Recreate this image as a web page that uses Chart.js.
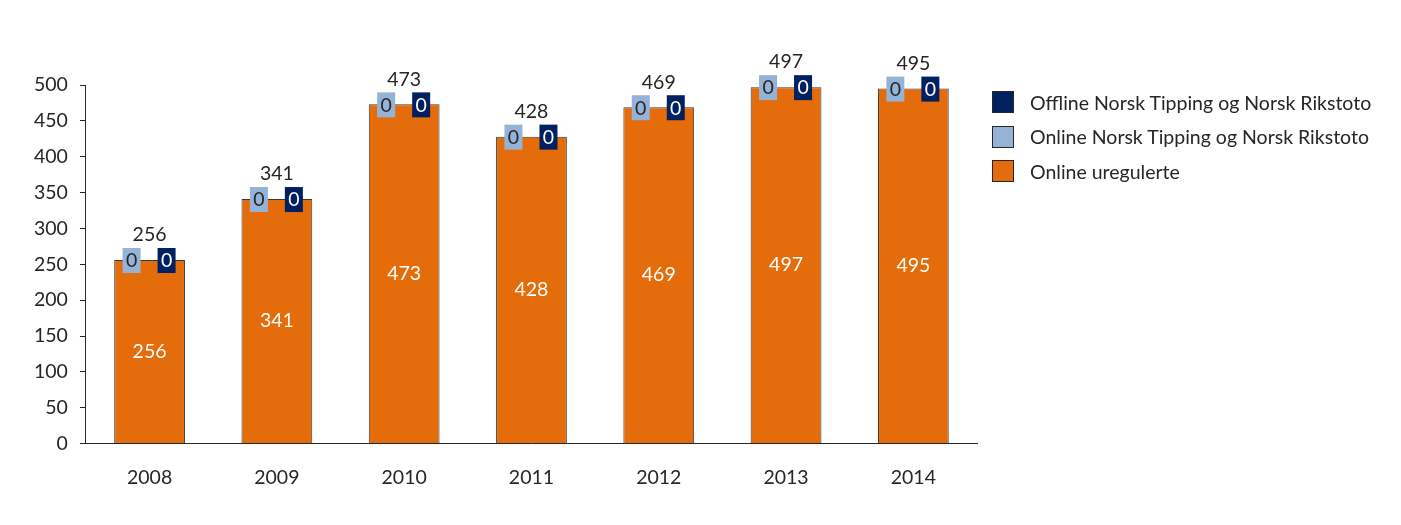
<!DOCTYPE html>
<html>
<head>
<meta charset="utf-8">
<script src="https://cdn.jsdelivr.net/npm/chart.js@4"></script>
<style>
  body { margin: 0; background: #fff; }
  .wrap { position: relative; width: 1401px; height: 525px; }
  #legend { position: absolute; left: 992px; top: 91px; margin: 0; padding: 0; list-style: none;
    font-family: Lato, "Open Sans", sans-serif; font-size: 19.5px; color: #262626; }
  #legend li { display: flex; align-items: center; height: 22px; margin-bottom: 12.5px; white-space: nowrap; }
  #legend span.box { display: inline-block; width: 20px; height: 20px; border: 1px solid #262626; margin-right: 16px; }
</style>
</head>
<body>
<div class="wrap">
  <canvas id="popChart" width="1401" height="525"></canvas>
  <ul id="legend"></ul>
</div>
<script>
const years = ['2008', '2009', '2010', '2011', '2012', '2013', '2014'];
const onlineUregulerte = [256, 341, 473, 428, 469, 497, 495];
const onlineNorsk = [0, 0, 0, 0, 0, 0, 0];
const offlineNorsk = [0, 0, 0, 0, 0, 0, 0];
const yTicks = [0, 50, 100, 150, 200, 250, 300, 350, 400, 450, 500];

const ORANGE = '#E46C0A';
const LIGHT = '#95B3D7';
const DARK = '#002060';
const TEXT = '#262626';
const FONT = 'Lato, "Open Sans", sans-serif';
const FONT_SIZE = 19.5;

const ctx = document.getElementById('popChart').getContext('2d');
const legendList = document.getElementById('legend');

// value labels: white inside the orange bar, total above, small "0" boxes at the top
const labelPlugin = {
  id: 'labels',
  afterDatasetsDraw(chart) {
    const { ctx: c } = chart;
    const orange = chart.getDatasetMeta(0).data;
    const light = chart.getDatasetMeta(1).data;
    const dark = chart.getDatasetMeta(2).data;
    c.save();
    c.font = `${FONT_SIZE}px ${FONT}`;
    c.textAlign = 'center';
    c.textBaseline = 'middle';
    orange.forEach((bar, i) => {
      c.fillStyle = '#fff';
      c.fillText(String(onlineUregulerte[i]), bar.x, (bar.y + bar.base) / 2);
      c.fillStyle = TEXT;
      c.fillText(String(onlineUregulerte[i] + onlineNorsk[i] + offlineNorsk[i]), bar.x, dark[i].y - 25);

      const lx = light[i].x - 18;
      c.fillStyle = LIGHT;
      c.fillRect(lx - 9, light[i].y - 12, 18, 25);
      c.fillStyle = TEXT;
      c.fillText(String(onlineNorsk[i]), lx, light[i].y + 1);

      const dx = dark[i].x + 17;
      c.fillStyle = DARK;
      c.fillRect(dx - 9, dark[i].y - 12, 18, 25);
      c.fillStyle = '#fff';
      c.fillText(String(offlineNorsk[i]), dx, dark[i].y + 1);
    });
    c.restore();
  },
};

const barChart = new Chart(ctx, {
  type: 'bar',
  data: {
    labels: years,
    datasets: [
      { label: 'Online uregulerte', data: onlineUregulerte, backgroundColor: ORANGE, borderColor: '#3a3a3a', borderWidth: 1 },
      { label: 'Online Norsk Tipping og Norsk Rikstoto', data: onlineNorsk, backgroundColor: LIGHT, borderWidth: 0 },
      { label: 'Offline Norsk Tipping og Norsk Rikstoto', data: offlineNorsk, backgroundColor: DARK, borderWidth: 0 },
    ],
  },
  options: {
    responsive: false,
    animation: false,
    layout: { padding: { top: 85, left: 22, bottom: 14, right: 424 } },
    datasets: { bar: { categoryPercentage: 1, barPercentage: 0.556 } },
    scales: {
      x: {
        stacked: true,
        grid: { display: false, drawTicks: false },
        border: { display: true, color: '#262626', width: 1 },
        ticks: { color: TEXT, font: { family: FONT, size: FONT_SIZE }, padding: 22 },
      },
      y: {
        stacked: true,
        min: 0,
        max: 500,
        afterBuildTicks(axis) { axis.ticks = yTicks.map((v) => ({ value: v })); },
        grid: { drawOnChartArea: false, drawTicks: true, tickLength: 6, color: '#262626' },
        border: { display: true, color: '#262626', width: 1 },
        ticks: { color: TEXT, font: { family: FONT, size: FONT_SIZE }, padding: 12 },
      },
    },
    plugins: {
      tooltip: { enabled: false },
      legend: { display: false },
    },
  },
  plugins: [labelPlugin],
});

// legend in Excel order: last series first
[...barChart.data.datasets].reverse().forEach((ds) => {
  const li = document.createElement('li');
  const box = document.createElement('span');
  box.className = 'box';
  box.style.background = ds.backgroundColor;
  li.appendChild(box);
  li.appendChild(document.createTextNode(ds.label));
  legendList.appendChild(li);
});
</script>
</body>
</html>
